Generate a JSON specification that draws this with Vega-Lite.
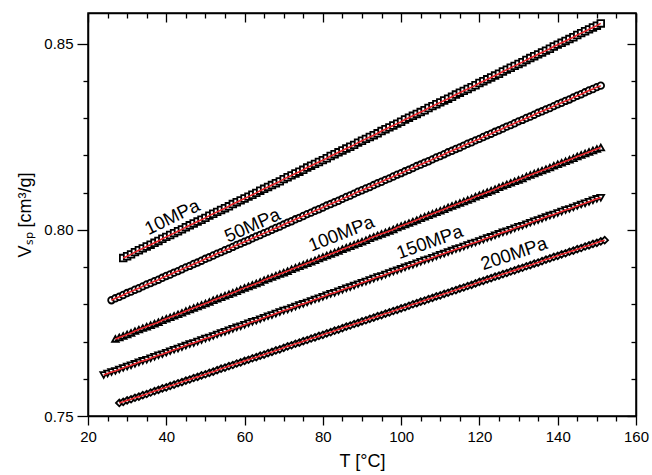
{
"$schema": "https://vega.github.io/schema/vega-lite/v6.json",
"width": 548, "height": 403,
"autosize": {"type": "none"},
"padding": {"left": 88, "top": 13, "right": 16, "bottom": 59},
"background": "white",
"config": {
  "font": "Liberation Sans",
  "view": {"stroke": "black", "strokeWidth": 1.5},
  "axis": {"grid": false, "domainColor": "black", "domainWidth": 1.5, "tickColor": "black", "tickWidth": 1.3, "labelColor": "black", "labelFontSize": 15, "labelFont": "Liberation Sans", "titleFont": "Liberation Sans", "titleFontSize": 18, "titleFontWeight": "normal", "titleColor": "black", "labelFlush": false, "labelOverlap": false, "labelBound": false}
},
"data": {"values": [
{"P":"10MPa","T":29,"V":0.7924},{"P":"10MPa","T":30,"V":0.7929},{"P":"10MPa","T":31,"V":0.7934},{"P":"10MPa","T":32,"V":0.7940},{"P":"10MPa","T":33,"V":0.7945},{"P":"10MPa","T":34,"V":0.7950},{"P":"10MPa","T":35,"V":0.7955},{"P":"10MPa","T":36,"V":0.7960},{"P":"10MPa","T":37,"V":0.7965},{"P":"10MPa","T":38,"V":0.7970},{"P":"10MPa","T":39,"V":0.7976},{"P":"10MPa","T":40,"V":0.7981},{"P":"10MPa","T":41,"V":0.7986},{"P":"10MPa","T":42,"V":0.7991},{"P":"10MPa","T":43,"V":0.7996},{"P":"10MPa","T":44,"V":0.8001},{"P":"10MPa","T":45,"V":0.8007},{"P":"10MPa","T":46,"V":0.8012},{"P":"10MPa","T":47,"V":0.8017},{"P":"10MPa","T":48,"V":0.8022},{"P":"10MPa","T":49,"V":0.8027},{"P":"10MPa","T":50,"V":0.8032},{"P":"10MPa","T":51,"V":0.8038},{"P":"10MPa","T":52,"V":0.8043},{"P":"10MPa","T":53,"V":0.8048},{"P":"10MPa","T":54,"V":0.8053},{"P":"10MPa","T":55,"V":0.8058},{"P":"10MPa","T":56,"V":0.8063},{"P":"10MPa","T":57,"V":0.8069},{"P":"10MPa","T":58,"V":0.8074},{"P":"10MPa","T":59,"V":0.8079},{"P":"10MPa","T":60,"V":0.8084},{"P":"10MPa","T":61,"V":0.8089},{"P":"10MPa","T":62,"V":0.8094},{"P":"10MPa","T":63,"V":0.8099},{"P":"10MPa","T":64,"V":0.8105},{"P":"10MPa","T":65,"V":0.8110},{"P":"10MPa","T":66,"V":0.8115},{"P":"10MPa","T":67,"V":0.8120},{"P":"10MPa","T":68,"V":0.8125},{"P":"10MPa","T":69,"V":0.8130},{"P":"10MPa","T":70,"V":0.8136},{"P":"10MPa","T":71,"V":0.8141},{"P":"10MPa","T":72,"V":0.8146},{"P":"10MPa","T":73,"V":0.8151},{"P":"10MPa","T":74,"V":0.8156},{"P":"10MPa","T":75,"V":0.8161},{"P":"10MPa","T":76,"V":0.8167},{"P":"10MPa","T":77,"V":0.8172},{"P":"10MPa","T":78,"V":0.8177},{"P":"10MPa","T":79,"V":0.8182},{"P":"10MPa","T":80,"V":0.8187},{"P":"10MPa","T":81,"V":0.8192},{"P":"10MPa","T":82,"V":0.8198},{"P":"10MPa","T":83,"V":0.8203},{"P":"10MPa","T":84,"V":0.8208},{"P":"10MPa","T":85,"V":0.8213},{"P":"10MPa","T":86,"V":0.8218},{"P":"10MPa","T":87,"V":0.8223},{"P":"10MPa","T":88,"V":0.8228},{"P":"10MPa","T":89,"V":0.8234},{"P":"10MPa","T":90,"V":0.8239},{"P":"10MPa","T":91,"V":0.8244},{"P":"10MPa","T":92,"V":0.8249},{"P":"10MPa","T":93,"V":0.8254},{"P":"10MPa","T":94,"V":0.8259},{"P":"10MPa","T":95,"V":0.8265},{"P":"10MPa","T":96,"V":0.8270},{"P":"10MPa","T":97,"V":0.8275},{"P":"10MPa","T":98,"V":0.8280},{"P":"10MPa","T":99,"V":0.8285},{"P":"10MPa","T":100,"V":0.8290},{"P":"10MPa","T":101,"V":0.8296},{"P":"10MPa","T":102,"V":0.8301},{"P":"10MPa","T":103,"V":0.8306},{"P":"10MPa","T":104,"V":0.8311},{"P":"10MPa","T":105,"V":0.8316},{"P":"10MPa","T":106,"V":0.8321},{"P":"10MPa","T":107,"V":0.8327},{"P":"10MPa","T":108,"V":0.8332},{"P":"10MPa","T":109,"V":0.8337},{"P":"10MPa","T":110,"V":0.8342},{"P":"10MPa","T":111,"V":0.8347},{"P":"10MPa","T":112,"V":0.8352},{"P":"10MPa","T":113,"V":0.8357},{"P":"10MPa","T":114,"V":0.8363},{"P":"10MPa","T":115,"V":0.8368},{"P":"10MPa","T":116,"V":0.8373},{"P":"10MPa","T":117,"V":0.8378},{"P":"10MPa","T":118,"V":0.8383},{"P":"10MPa","T":119,"V":0.8388},{"P":"10MPa","T":120,"V":0.8394},{"P":"10MPa","T":121,"V":0.8399},{"P":"10MPa","T":122,"V":0.8404},{"P":"10MPa","T":123,"V":0.8409},{"P":"10MPa","T":124,"V":0.8414},{"P":"10MPa","T":125,"V":0.8419},{"P":"10MPa","T":126,"V":0.8425},{"P":"10MPa","T":127,"V":0.8430},{"P":"10MPa","T":128,"V":0.8435},{"P":"10MPa","T":129,"V":0.8440},{"P":"10MPa","T":130,"V":0.8445},{"P":"10MPa","T":131,"V":0.8450},{"P":"10MPa","T":132,"V":0.8456},{"P":"10MPa","T":133,"V":0.8461},{"P":"10MPa","T":134,"V":0.8466},{"P":"10MPa","T":135,"V":0.8471},{"P":"10MPa","T":136,"V":0.8476},{"P":"10MPa","T":137,"V":0.8481},{"P":"10MPa","T":138,"V":0.8486},{"P":"10MPa","T":139,"V":0.8492},{"P":"10MPa","T":140,"V":0.8497},{"P":"10MPa","T":141,"V":0.8502},{"P":"10MPa","T":142,"V":0.8507},{"P":"10MPa","T":143,"V":0.8512},{"P":"10MPa","T":144,"V":0.8517},{"P":"10MPa","T":145,"V":0.8523},{"P":"10MPa","T":146,"V":0.8528},{"P":"10MPa","T":147,"V":0.8533},{"P":"10MPa","T":148,"V":0.8538},{"P":"10MPa","T":149,"V":0.8543},{"P":"10MPa","T":150,"V":0.8548},{"P":"10MPa","T":151,"V":0.8554},
{"P":"50MPa","T":26,"V":0.7811},{"P":"50MPa","T":27,"V":0.7816},{"P":"50MPa","T":28,"V":0.7820},{"P":"50MPa","T":29,"V":0.7825},{"P":"50MPa","T":30,"V":0.7830},{"P":"50MPa","T":31,"V":0.7834},{"P":"50MPa","T":32,"V":0.7839},{"P":"50MPa","T":33,"V":0.7843},{"P":"50MPa","T":34,"V":0.7848},{"P":"50MPa","T":35,"V":0.7853},{"P":"50MPa","T":36,"V":0.7857},{"P":"50MPa","T":37,"V":0.7862},{"P":"50MPa","T":38,"V":0.7866},{"P":"50MPa","T":39,"V":0.7871},{"P":"50MPa","T":40,"V":0.7876},{"P":"50MPa","T":41,"V":0.7880},{"P":"50MPa","T":42,"V":0.7885},{"P":"50MPa","T":43,"V":0.7889},{"P":"50MPa","T":44,"V":0.7894},{"P":"50MPa","T":45,"V":0.7899},{"P":"50MPa","T":46,"V":0.7903},{"P":"50MPa","T":47,"V":0.7908},{"P":"50MPa","T":48,"V":0.7912},{"P":"50MPa","T":49,"V":0.7917},{"P":"50MPa","T":50,"V":0.7922},{"P":"50MPa","T":51,"V":0.7926},{"P":"50MPa","T":52,"V":0.7931},{"P":"50MPa","T":53,"V":0.7936},{"P":"50MPa","T":54,"V":0.7940},{"P":"50MPa","T":55,"V":0.7945},{"P":"50MPa","T":56,"V":0.7949},{"P":"50MPa","T":57,"V":0.7954},{"P":"50MPa","T":58,"V":0.7959},{"P":"50MPa","T":59,"V":0.7963},{"P":"50MPa","T":60,"V":0.7968},{"P":"50MPa","T":61,"V":0.7972},{"P":"50MPa","T":62,"V":0.7977},{"P":"50MPa","T":63,"V":0.7982},{"P":"50MPa","T":64,"V":0.7986},{"P":"50MPa","T":65,"V":0.7991},{"P":"50MPa","T":66,"V":0.7995},{"P":"50MPa","T":67,"V":0.8000},{"P":"50MPa","T":68,"V":0.8005},{"P":"50MPa","T":69,"V":0.8009},{"P":"50MPa","T":70,"V":0.8014},{"P":"50MPa","T":71,"V":0.8019},{"P":"50MPa","T":72,"V":0.8023},{"P":"50MPa","T":73,"V":0.8028},{"P":"50MPa","T":74,"V":0.8032},{"P":"50MPa","T":75,"V":0.8037},{"P":"50MPa","T":76,"V":0.8042},{"P":"50MPa","T":77,"V":0.8046},{"P":"50MPa","T":78,"V":0.8051},{"P":"50MPa","T":79,"V":0.8055},{"P":"50MPa","T":80,"V":0.8060},{"P":"50MPa","T":81,"V":0.8065},{"P":"50MPa","T":82,"V":0.8069},{"P":"50MPa","T":83,"V":0.8074},{"P":"50MPa","T":84,"V":0.8078},{"P":"50MPa","T":85,"V":0.8083},{"P":"50MPa","T":86,"V":0.8088},{"P":"50MPa","T":87,"V":0.8092},{"P":"50MPa","T":88,"V":0.8097},{"P":"50MPa","T":89,"V":0.8102},{"P":"50MPa","T":90,"V":0.8106},{"P":"50MPa","T":91,"V":0.8111},{"P":"50MPa","T":92,"V":0.8115},{"P":"50MPa","T":93,"V":0.8120},{"P":"50MPa","T":94,"V":0.8125},{"P":"50MPa","T":95,"V":0.8129},{"P":"50MPa","T":96,"V":0.8134},{"P":"50MPa","T":97,"V":0.8138},{"P":"50MPa","T":98,"V":0.8143},{"P":"50MPa","T":99,"V":0.8148},{"P":"50MPa","T":100,"V":0.8152},{"P":"50MPa","T":101,"V":0.8157},{"P":"50MPa","T":102,"V":0.8161},{"P":"50MPa","T":103,"V":0.8166},{"P":"50MPa","T":104,"V":0.8171},{"P":"50MPa","T":105,"V":0.8175},{"P":"50MPa","T":106,"V":0.8180},{"P":"50MPa","T":107,"V":0.8184},{"P":"50MPa","T":108,"V":0.8189},{"P":"50MPa","T":109,"V":0.8194},{"P":"50MPa","T":110,"V":0.8198},{"P":"50MPa","T":111,"V":0.8203},{"P":"50MPa","T":112,"V":0.8208},{"P":"50MPa","T":113,"V":0.8212},{"P":"50MPa","T":114,"V":0.8217},{"P":"50MPa","T":115,"V":0.8221},{"P":"50MPa","T":116,"V":0.8226},{"P":"50MPa","T":117,"V":0.8231},{"P":"50MPa","T":118,"V":0.8235},{"P":"50MPa","T":119,"V":0.8240},{"P":"50MPa","T":120,"V":0.8244},{"P":"50MPa","T":121,"V":0.8249},{"P":"50MPa","T":122,"V":0.8254},{"P":"50MPa","T":123,"V":0.8258},{"P":"50MPa","T":124,"V":0.8263},{"P":"50MPa","T":125,"V":0.8267},{"P":"50MPa","T":126,"V":0.8272},{"P":"50MPa","T":127,"V":0.8277},{"P":"50MPa","T":128,"V":0.8281},{"P":"50MPa","T":129,"V":0.8286},{"P":"50MPa","T":130,"V":0.8291},{"P":"50MPa","T":131,"V":0.8295},{"P":"50MPa","T":132,"V":0.8300},{"P":"50MPa","T":133,"V":0.8304},{"P":"50MPa","T":134,"V":0.8309},{"P":"50MPa","T":135,"V":0.8314},{"P":"50MPa","T":136,"V":0.8318},{"P":"50MPa","T":137,"V":0.8323},{"P":"50MPa","T":138,"V":0.8327},{"P":"50MPa","T":139,"V":0.8332},{"P":"50MPa","T":140,"V":0.8337},{"P":"50MPa","T":141,"V":0.8341},{"P":"50MPa","T":142,"V":0.8346},{"P":"50MPa","T":143,"V":0.8350},{"P":"50MPa","T":144,"V":0.8355},{"P":"50MPa","T":145,"V":0.8360},{"P":"50MPa","T":146,"V":0.8364},{"P":"50MPa","T":147,"V":0.8369},{"P":"50MPa","T":148,"V":0.8374},{"P":"50MPa","T":149,"V":0.8378},{"P":"50MPa","T":150,"V":0.8383},{"P":"50MPa","T":151,"V":0.8387},
{"P":"100MPa","T":27,"V":0.7707},{"P":"100MPa","T":28,"V":0.7711},{"P":"100MPa","T":29,"V":0.7715},{"P":"100MPa","T":30,"V":0.7719},{"P":"100MPa","T":31,"V":0.7723},{"P":"100MPa","T":32,"V":0.7728},{"P":"100MPa","T":33,"V":0.7732},{"P":"100MPa","T":34,"V":0.7736},{"P":"100MPa","T":35,"V":0.7740},{"P":"100MPa","T":36,"V":0.7744},{"P":"100MPa","T":37,"V":0.7748},{"P":"100MPa","T":38,"V":0.7752},{"P":"100MPa","T":39,"V":0.7757},{"P":"100MPa","T":40,"V":0.7761},{"P":"100MPa","T":41,"V":0.7765},{"P":"100MPa","T":42,"V":0.7769},{"P":"100MPa","T":43,"V":0.7773},{"P":"100MPa","T":44,"V":0.7777},{"P":"100MPa","T":45,"V":0.7782},{"P":"100MPa","T":46,"V":0.7786},{"P":"100MPa","T":47,"V":0.7790},{"P":"100MPa","T":48,"V":0.7794},{"P":"100MPa","T":49,"V":0.7798},{"P":"100MPa","T":50,"V":0.7802},{"P":"100MPa","T":51,"V":0.7806},{"P":"100MPa","T":52,"V":0.7811},{"P":"100MPa","T":53,"V":0.7815},{"P":"100MPa","T":54,"V":0.7819},{"P":"100MPa","T":55,"V":0.7823},{"P":"100MPa","T":56,"V":0.7827},{"P":"100MPa","T":57,"V":0.7831},{"P":"100MPa","T":58,"V":0.7835},{"P":"100MPa","T":59,"V":0.7840},{"P":"100MPa","T":60,"V":0.7844},{"P":"100MPa","T":61,"V":0.7848},{"P":"100MPa","T":62,"V":0.7852},{"P":"100MPa","T":63,"V":0.7856},{"P":"100MPa","T":64,"V":0.7860},{"P":"100MPa","T":65,"V":0.7865},{"P":"100MPa","T":66,"V":0.7869},{"P":"100MPa","T":67,"V":0.7873},{"P":"100MPa","T":68,"V":0.7877},{"P":"100MPa","T":69,"V":0.7881},{"P":"100MPa","T":70,"V":0.7885},{"P":"100MPa","T":71,"V":0.7889},{"P":"100MPa","T":72,"V":0.7894},{"P":"100MPa","T":73,"V":0.7898},{"P":"100MPa","T":74,"V":0.7902},{"P":"100MPa","T":75,"V":0.7906},{"P":"100MPa","T":76,"V":0.7910},{"P":"100MPa","T":77,"V":0.7914},{"P":"100MPa","T":78,"V":0.7918},{"P":"100MPa","T":79,"V":0.7923},{"P":"100MPa","T":80,"V":0.7927},{"P":"100MPa","T":81,"V":0.7931},{"P":"100MPa","T":82,"V":0.7935},{"P":"100MPa","T":83,"V":0.7939},{"P":"100MPa","T":84,"V":0.7943},{"P":"100MPa","T":85,"V":0.7948},{"P":"100MPa","T":86,"V":0.7952},{"P":"100MPa","T":87,"V":0.7956},{"P":"100MPa","T":88,"V":0.7960},{"P":"100MPa","T":89,"V":0.7964},{"P":"100MPa","T":90,"V":0.7968},{"P":"100MPa","T":91,"V":0.7972},{"P":"100MPa","T":92,"V":0.7977},{"P":"100MPa","T":93,"V":0.7981},{"P":"100MPa","T":94,"V":0.7985},{"P":"100MPa","T":95,"V":0.7989},{"P":"100MPa","T":96,"V":0.7993},{"P":"100MPa","T":97,"V":0.7997},{"P":"100MPa","T":98,"V":0.8001},{"P":"100MPa","T":99,"V":0.8006},{"P":"100MPa","T":100,"V":0.8010},{"P":"100MPa","T":101,"V":0.8014},{"P":"100MPa","T":102,"V":0.8018},{"P":"100MPa","T":103,"V":0.8022},{"P":"100MPa","T":104,"V":0.8026},{"P":"100MPa","T":105,"V":0.8031},{"P":"100MPa","T":106,"V":0.8035},{"P":"100MPa","T":107,"V":0.8039},{"P":"100MPa","T":108,"V":0.8043},{"P":"100MPa","T":109,"V":0.8047},{"P":"100MPa","T":110,"V":0.8051},{"P":"100MPa","T":111,"V":0.8055},{"P":"100MPa","T":112,"V":0.8060},{"P":"100MPa","T":113,"V":0.8064},{"P":"100MPa","T":114,"V":0.8068},{"P":"100MPa","T":115,"V":0.8072},{"P":"100MPa","T":116,"V":0.8076},{"P":"100MPa","T":117,"V":0.8080},{"P":"100MPa","T":118,"V":0.8084},{"P":"100MPa","T":119,"V":0.8089},{"P":"100MPa","T":120,"V":0.8093},{"P":"100MPa","T":121,"V":0.8097},{"P":"100MPa","T":122,"V":0.8101},{"P":"100MPa","T":123,"V":0.8105},{"P":"100MPa","T":124,"V":0.8109},{"P":"100MPa","T":125,"V":0.8114},{"P":"100MPa","T":126,"V":0.8118},{"P":"100MPa","T":127,"V":0.8122},{"P":"100MPa","T":128,"V":0.8126},{"P":"100MPa","T":129,"V":0.8130},{"P":"100MPa","T":130,"V":0.8134},{"P":"100MPa","T":131,"V":0.8138},{"P":"100MPa","T":132,"V":0.8143},{"P":"100MPa","T":133,"V":0.8147},{"P":"100MPa","T":134,"V":0.8151},{"P":"100MPa","T":135,"V":0.8155},{"P":"100MPa","T":136,"V":0.8159},{"P":"100MPa","T":137,"V":0.8163},{"P":"100MPa","T":138,"V":0.8167},{"P":"100MPa","T":139,"V":0.8172},{"P":"100MPa","T":140,"V":0.8176},{"P":"100MPa","T":141,"V":0.8180},{"P":"100MPa","T":142,"V":0.8184},{"P":"100MPa","T":143,"V":0.8188},{"P":"100MPa","T":144,"V":0.8192},{"P":"100MPa","T":145,"V":0.8197},{"P":"100MPa","T":146,"V":0.8201},{"P":"100MPa","T":147,"V":0.8205},{"P":"100MPa","T":148,"V":0.8209},{"P":"100MPa","T":149,"V":0.8213},{"P":"100MPa","T":150,"V":0.8217},{"P":"100MPa","T":151,"V":0.8221},
{"P":"150MPa","T":24,"V":0.7610},{"P":"150MPa","T":25,"V":0.7614},{"P":"150MPa","T":26,"V":0.7618},{"P":"150MPa","T":27,"V":0.7621},{"P":"150MPa","T":28,"V":0.7625},{"P":"150MPa","T":29,"V":0.7629},{"P":"150MPa","T":30,"V":0.7633},{"P":"150MPa","T":31,"V":0.7636},{"P":"150MPa","T":32,"V":0.7640},{"P":"150MPa","T":33,"V":0.7644},{"P":"150MPa","T":34,"V":0.7648},{"P":"150MPa","T":35,"V":0.7651},{"P":"150MPa","T":36,"V":0.7655},{"P":"150MPa","T":37,"V":0.7659},{"P":"150MPa","T":38,"V":0.7663},{"P":"150MPa","T":39,"V":0.7666},{"P":"150MPa","T":40,"V":0.7670},{"P":"150MPa","T":41,"V":0.7674},{"P":"150MPa","T":42,"V":0.7678},{"P":"150MPa","T":43,"V":0.7681},{"P":"150MPa","T":44,"V":0.7685},{"P":"150MPa","T":45,"V":0.7689},{"P":"150MPa","T":46,"V":0.7693},{"P":"150MPa","T":47,"V":0.7696},{"P":"150MPa","T":48,"V":0.7700},{"P":"150MPa","T":49,"V":0.7704},{"P":"150MPa","T":50,"V":0.7708},{"P":"150MPa","T":51,"V":0.7711},{"P":"150MPa","T":52,"V":0.7715},{"P":"150MPa","T":53,"V":0.7719},{"P":"150MPa","T":54,"V":0.7723},{"P":"150MPa","T":55,"V":0.7726},{"P":"150MPa","T":56,"V":0.7730},{"P":"150MPa","T":57,"V":0.7734},{"P":"150MPa","T":58,"V":0.7738},{"P":"150MPa","T":59,"V":0.7741},{"P":"150MPa","T":60,"V":0.7745},{"P":"150MPa","T":61,"V":0.7749},{"P":"150MPa","T":62,"V":0.7753},{"P":"150MPa","T":63,"V":0.7756},{"P":"150MPa","T":64,"V":0.7760},{"P":"150MPa","T":65,"V":0.7764},{"P":"150MPa","T":66,"V":0.7768},{"P":"150MPa","T":67,"V":0.7771},{"P":"150MPa","T":68,"V":0.7775},{"P":"150MPa","T":69,"V":0.7779},{"P":"150MPa","T":70,"V":0.7783},{"P":"150MPa","T":71,"V":0.7786},{"P":"150MPa","T":72,"V":0.7790},{"P":"150MPa","T":73,"V":0.7794},{"P":"150MPa","T":74,"V":0.7798},{"P":"150MPa","T":75,"V":0.7801},{"P":"150MPa","T":76,"V":0.7805},{"P":"150MPa","T":77,"V":0.7809},{"P":"150MPa","T":78,"V":0.7813},{"P":"150MPa","T":79,"V":0.7816},{"P":"150MPa","T":80,"V":0.7820},{"P":"150MPa","T":81,"V":0.7824},{"P":"150MPa","T":82,"V":0.7828},{"P":"150MPa","T":83,"V":0.7831},{"P":"150MPa","T":84,"V":0.7835},{"P":"150MPa","T":85,"V":0.7839},{"P":"150MPa","T":86,"V":0.7843},{"P":"150MPa","T":87,"V":0.7846},{"P":"150MPa","T":88,"V":0.7850},{"P":"150MPa","T":89,"V":0.7854},{"P":"150MPa","T":90,"V":0.7858},{"P":"150MPa","T":91,"V":0.7861},{"P":"150MPa","T":92,"V":0.7865},{"P":"150MPa","T":93,"V":0.7869},{"P":"150MPa","T":94,"V":0.7873},{"P":"150MPa","T":95,"V":0.7876},{"P":"150MPa","T":96,"V":0.7880},{"P":"150MPa","T":97,"V":0.7884},{"P":"150MPa","T":98,"V":0.7888},{"P":"150MPa","T":99,"V":0.7891},{"P":"150MPa","T":100,"V":0.7895},{"P":"150MPa","T":101,"V":0.7899},{"P":"150MPa","T":102,"V":0.7903},{"P":"150MPa","T":103,"V":0.7906},{"P":"150MPa","T":104,"V":0.7910},{"P":"150MPa","T":105,"V":0.7914},{"P":"150MPa","T":106,"V":0.7918},{"P":"150MPa","T":107,"V":0.7921},{"P":"150MPa","T":108,"V":0.7925},{"P":"150MPa","T":109,"V":0.7929},{"P":"150MPa","T":110,"V":0.7933},{"P":"150MPa","T":111,"V":0.7936},{"P":"150MPa","T":112,"V":0.7940},{"P":"150MPa","T":113,"V":0.7944},{"P":"150MPa","T":114,"V":0.7948},{"P":"150MPa","T":115,"V":0.7951},{"P":"150MPa","T":116,"V":0.7955},{"P":"150MPa","T":117,"V":0.7959},{"P":"150MPa","T":118,"V":0.7963},{"P":"150MPa","T":119,"V":0.7966},{"P":"150MPa","T":120,"V":0.7970},{"P":"150MPa","T":121,"V":0.7974},{"P":"150MPa","T":122,"V":0.7978},{"P":"150MPa","T":123,"V":0.7981},{"P":"150MPa","T":124,"V":0.7985},{"P":"150MPa","T":125,"V":0.7989},{"P":"150MPa","T":126,"V":0.7993},{"P":"150MPa","T":127,"V":0.7996},{"P":"150MPa","T":128,"V":0.8000},{"P":"150MPa","T":129,"V":0.8004},{"P":"150MPa","T":130,"V":0.8008},{"P":"150MPa","T":131,"V":0.8011},{"P":"150MPa","T":132,"V":0.8015},{"P":"150MPa","T":133,"V":0.8019},{"P":"150MPa","T":134,"V":0.8023},{"P":"150MPa","T":135,"V":0.8026},{"P":"150MPa","T":136,"V":0.8030},{"P":"150MPa","T":137,"V":0.8034},{"P":"150MPa","T":138,"V":0.8038},{"P":"150MPa","T":139,"V":0.8041},{"P":"150MPa","T":140,"V":0.8045},{"P":"150MPa","T":141,"V":0.8049},{"P":"150MPa","T":142,"V":0.8053},{"P":"150MPa","T":143,"V":0.8056},{"P":"150MPa","T":144,"V":0.8060},{"P":"150MPa","T":145,"V":0.8064},{"P":"150MPa","T":146,"V":0.8068},{"P":"150MPa","T":147,"V":0.8071},{"P":"150MPa","T":148,"V":0.8075},{"P":"150MPa","T":149,"V":0.8079},{"P":"150MPa","T":150,"V":0.8083},{"P":"150MPa","T":151,"V":0.8086},
{"P":"200MPa","T":28,"V":0.7535},{"P":"200MPa","T":29,"V":0.7538},{"P":"200MPa","T":30,"V":0.7542},{"P":"200MPa","T":31,"V":0.7545},{"P":"200MPa","T":32,"V":0.7549},{"P":"200MPa","T":33,"V":0.7552},{"P":"200MPa","T":34,"V":0.7556},{"P":"200MPa","T":35,"V":0.7559},{"P":"200MPa","T":36,"V":0.7563},{"P":"200MPa","T":37,"V":0.7567},{"P":"200MPa","T":38,"V":0.7570},{"P":"200MPa","T":39,"V":0.7574},{"P":"200MPa","T":40,"V":0.7577},{"P":"200MPa","T":41,"V":0.7581},{"P":"200MPa","T":42,"V":0.7584},{"P":"200MPa","T":43,"V":0.7588},{"P":"200MPa","T":44,"V":0.7591},{"P":"200MPa","T":45,"V":0.7595},{"P":"200MPa","T":46,"V":0.7598},{"P":"200MPa","T":47,"V":0.7602},{"P":"200MPa","T":48,"V":0.7605},{"P":"200MPa","T":49,"V":0.7609},{"P":"200MPa","T":50,"V":0.7612},{"P":"200MPa","T":51,"V":0.7616},{"P":"200MPa","T":52,"V":0.7619},{"P":"200MPa","T":53,"V":0.7623},{"P":"200MPa","T":54,"V":0.7627},{"P":"200MPa","T":55,"V":0.7630},{"P":"200MPa","T":56,"V":0.7634},{"P":"200MPa","T":57,"V":0.7637},{"P":"200MPa","T":58,"V":0.7641},{"P":"200MPa","T":59,"V":0.7644},{"P":"200MPa","T":60,"V":0.7648},{"P":"200MPa","T":61,"V":0.7651},{"P":"200MPa","T":62,"V":0.7655},{"P":"200MPa","T":63,"V":0.7658},{"P":"200MPa","T":64,"V":0.7662},{"P":"200MPa","T":65,"V":0.7665},{"P":"200MPa","T":66,"V":0.7669},{"P":"200MPa","T":67,"V":0.7672},{"P":"200MPa","T":68,"V":0.7676},{"P":"200MPa","T":69,"V":0.7679},{"P":"200MPa","T":70,"V":0.7683},{"P":"200MPa","T":71,"V":0.7687},{"P":"200MPa","T":72,"V":0.7690},{"P":"200MPa","T":73,"V":0.7694},{"P":"200MPa","T":74,"V":0.7697},{"P":"200MPa","T":75,"V":0.7701},{"P":"200MPa","T":76,"V":0.7704},{"P":"200MPa","T":77,"V":0.7708},{"P":"200MPa","T":78,"V":0.7711},{"P":"200MPa","T":79,"V":0.7715},{"P":"200MPa","T":80,"V":0.7718},{"P":"200MPa","T":81,"V":0.7722},{"P":"200MPa","T":82,"V":0.7725},{"P":"200MPa","T":83,"V":0.7729},{"P":"200MPa","T":84,"V":0.7732},{"P":"200MPa","T":85,"V":0.7736},{"P":"200MPa","T":86,"V":0.7740},{"P":"200MPa","T":87,"V":0.7743},{"P":"200MPa","T":88,"V":0.7747},{"P":"200MPa","T":89,"V":0.7750},{"P":"200MPa","T":90,"V":0.7754},{"P":"200MPa","T":91,"V":0.7757},{"P":"200MPa","T":92,"V":0.7761},{"P":"200MPa","T":93,"V":0.7764},{"P":"200MPa","T":94,"V":0.7768},{"P":"200MPa","T":95,"V":0.7771},{"P":"200MPa","T":96,"V":0.7775},{"P":"200MPa","T":97,"V":0.7778},{"P":"200MPa","T":98,"V":0.7782},{"P":"200MPa","T":99,"V":0.7785},{"P":"200MPa","T":100,"V":0.7789},{"P":"200MPa","T":101,"V":0.7792},{"P":"200MPa","T":102,"V":0.7796},{"P":"200MPa","T":103,"V":0.7800},{"P":"200MPa","T":104,"V":0.7803},{"P":"200MPa","T":105,"V":0.7807},{"P":"200MPa","T":106,"V":0.7810},{"P":"200MPa","T":107,"V":0.7814},{"P":"200MPa","T":108,"V":0.7817},{"P":"200MPa","T":109,"V":0.7821},{"P":"200MPa","T":110,"V":0.7824},{"P":"200MPa","T":111,"V":0.7828},{"P":"200MPa","T":112,"V":0.7831},{"P":"200MPa","T":113,"V":0.7835},{"P":"200MPa","T":114,"V":0.7838},{"P":"200MPa","T":115,"V":0.7842},{"P":"200MPa","T":116,"V":0.7845},{"P":"200MPa","T":117,"V":0.7849},{"P":"200MPa","T":118,"V":0.7852},{"P":"200MPa","T":119,"V":0.7856},{"P":"200MPa","T":120,"V":0.7860},{"P":"200MPa","T":121,"V":0.7863},{"P":"200MPa","T":122,"V":0.7867},{"P":"200MPa","T":123,"V":0.7870},{"P":"200MPa","T":124,"V":0.7874},{"P":"200MPa","T":125,"V":0.7877},{"P":"200MPa","T":126,"V":0.7881},{"P":"200MPa","T":127,"V":0.7884},{"P":"200MPa","T":128,"V":0.7888},{"P":"200MPa","T":129,"V":0.7891},{"P":"200MPa","T":130,"V":0.7895},{"P":"200MPa","T":131,"V":0.7898},{"P":"200MPa","T":132,"V":0.7902},{"P":"200MPa","T":133,"V":0.7905},{"P":"200MPa","T":134,"V":0.7909},{"P":"200MPa","T":135,"V":0.7912},{"P":"200MPa","T":136,"V":0.7916},{"P":"200MPa","T":137,"V":0.7920},{"P":"200MPa","T":138,"V":0.7923},{"P":"200MPa","T":139,"V":0.7927},{"P":"200MPa","T":140,"V":0.7930},{"P":"200MPa","T":141,"V":0.7934},{"P":"200MPa","T":142,"V":0.7937},{"P":"200MPa","T":143,"V":0.7941},{"P":"200MPa","T":144,"V":0.7944},{"P":"200MPa","T":145,"V":0.7948},{"P":"200MPa","T":146,"V":0.7951},{"P":"200MPa","T":147,"V":0.7955},{"P":"200MPa","T":148,"V":0.7958},{"P":"200MPa","T":149,"V":0.7962},{"P":"200MPa","T":150,"V":0.7965},{"P":"200MPa","T":151,"V":0.7969},{"P":"200MPa","T":152,"V":0.7972}
]},
"layer": [
  {
    "mark": {"type": "point", "filled": false, "fill": "white", "fillOpacity": 1, "stroke": "black", "strokeWidth": 1.8, "opacity": 1, "size": 44},
    "encoding": {
      "x": {"field": "T", "type": "quantitative", "scale": {"domain": [20, 160], "nice": false, "zero": false},
        "axis": {"orient": "bottom", "title": "T [°C]", "values": [20,25,30,35,40,45,50,55,60,65,70,75,80,85,90,95,100,105,110,115,120,125,130,135,140,145,150,155,160],
          "labelExpr": "datum.value % 20 == 0 ? datum.label : ''",
          "tickSize": {"condition": {"test": "datum.value % 20 == 0", "value": 9}, "value": 5},
          "labelPadding": 4, "titlePadding": 8}},
      "y": {"field": "V", "type": "quantitative", "scale": {"domain": [0.75, 0.8582], "nice": false, "zero": false},
        "axis": {"orient": "left", "title": "Vₛₚ [cm³/g]", "values": [0.75,0.76,0.77,0.78,0.79,0.8,0.81,0.82,0.83,0.84,0.85],
          "labelExpr": "round(datum.value*100) % 5 == 0 ? format(datum.value, '.2f') : ''",
          "tickSize": {"condition": {"test": "round(datum.value*100) % 5 == 0", "value": 11}, "value": 5},
          "labelPadding": 4, "titlePadding": 9}},
      "shape": {"field": "P", "type": "nominal", "legend": null,
        "scale": {"domain": ["10MPa","50MPa","100MPa","150MPa","200MPa"], "range": ["square","circle","triangle-up","triangle-down","diamond"]}}
    }
  },
  {
    "mark": {"type": "line", "color": "#e8252a", "strokeWidth": 1.6},
    "encoding": {
      "x": {"field": "T", "type": "quantitative",
        "axis": {"orient": "top", "title": null, "labels": false, "values": [20,25,30,35,40,45,50,55,60,65,70,75,80,85,90,95,100,105,110,115,120,125,130,135,140,145,150,155,160],
          "tickSize": {"condition": {"test": "datum.value % 20 == 0", "value": -9}, "value": -5}}},
      "y": {"field": "V", "type": "quantitative",
        "axis": {"orient": "right", "title": null, "labels": false, "values": [0.75,0.76,0.77,0.78,0.79,0.8,0.81,0.82,0.83,0.84,0.85],
          "tickSize": {"condition": {"test": "round(datum.value*100) % 5 == 0", "value": -9}, "value": -5}}},
      "detail": {"field": "P", "type": "nominal"}
    }
  },
  {
    "data": {"values": [{"L": "10MPa", "T": 41.5, "V": 0.8034}]},
    "mark": {"type": "text", "angle": 334, "fontSize": 18.5, "font": "Liberation Sans", "color": "black", "align": "center", "baseline": "middle"},
    "encoding": {"x": {"field": "T", "type": "quantitative", "axis": null}, "y": {"field": "V", "type": "quantitative", "axis": null}, "text": {"field": "L"}}
  },
  {
    "data": {"values": [{"L": "50MPa", "T": 62.0, "V": 0.8012}]},
    "mark": {"type": "text", "angle": 336, "fontSize": 18.5, "font": "Liberation Sans", "color": "black", "align": "center", "baseline": "middle"},
    "encoding": {"x": {"field": "T", "type": "quantitative", "axis": null}, "y": {"field": "V", "type": "quantitative", "axis": null}, "text": {"field": "L"}}
  },
  {
    "data": {"values": [{"L": "100MPa", "T": 84.7, "V": 0.7990}]},
    "mark": {"type": "text", "angle": 338.5, "fontSize": 18.5, "font": "Liberation Sans", "color": "black", "align": "center", "baseline": "middle"},
    "encoding": {"x": {"field": "T", "type": "quantitative", "axis": null}, "y": {"field": "V", "type": "quantitative", "axis": null}, "text": {"field": "L"}}
  },
  {
    "data": {"values": [{"L": "150MPa", "T": 107.3, "V": 0.7967}]},
    "mark": {"type": "text", "angle": 340.4, "fontSize": 18.5, "font": "Liberation Sans", "color": "black", "align": "center", "baseline": "middle"},
    "encoding": {"x": {"field": "T", "type": "quantitative", "axis": null}, "y": {"field": "V", "type": "quantitative", "axis": null}, "text": {"field": "L"}}
  },
  {
    "data": {"values": [{"L": "200MPa", "T": 128.8, "V": 0.7936}]},
    "mark": {"type": "text", "angle": 341.4, "fontSize": 18.5, "font": "Liberation Sans", "color": "black", "align": "center", "baseline": "middle"},
    "encoding": {"x": {"field": "T", "type": "quantitative", "axis": null}, "y": {"field": "V", "type": "quantitative", "axis": null}, "text": {"field": "L"}}
  }
]
}
